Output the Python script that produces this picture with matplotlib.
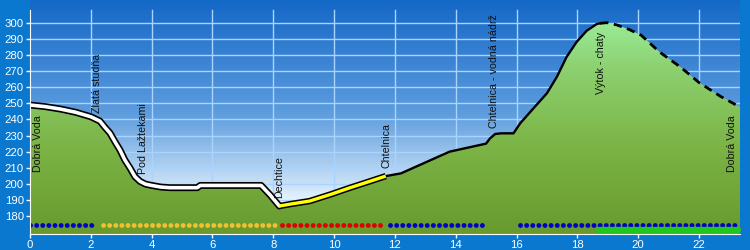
import numpy as np
import matplotlib
matplotlib.use("Agg")
import matplotlib.pyplot as plt
from matplotlib.colors import LinearSegmentedColormap
from matplotlib.patches import Polygon

# ---- data ----
dist = [0, 0.5, 1.0, 1.5, 2.0, 2.3, 2.47, 2.63, 2.8, 2.96, 3.12, 3.29, 3.45, 3.62, 3.8, 4.0,
        4.3, 4.6, 5.5, 5.6, 7.6, 7.9, 8.2, 8.6, 9.2, 9.9, 10.5, 11.2, 11.7, 12.2, 13.8,
        15.0, 15.13, 15.3, 15.5, 15.9, 16.12, 16.56, 17.0, 17.33, 17.65, 17.98, 18.31,
        18.64, 18.75, 18.97, 19.3, 19.7, 20.1, 20.7, 21.4, 22.0, 22.7, 23.35]
elev = [249, 248, 246.5, 244.5, 241.7, 239, 235, 231.6, 226, 221, 214.8, 209.8, 204.5, 201.5,
        199.8, 199, 198, 197.6, 197.6, 199, 199, 193, 186.2, 187.5, 189.3, 193.5, 197.4,
        201.7, 204.8, 206.5, 220, 225, 228.3, 231, 231.4, 231.4, 237.6, 247, 256.3, 266.6,
        279, 288.3, 295.2, 299.4, 299.8, 300.2, 298.8, 296, 292.4, 282, 272.5, 263, 254.5, 247.7]

# line style sections: (start km, end km, style)
sections = [(0, 8.2, "white"), (8.2, 11.7, "yellow"), (11.7, 18.75, "solid"), (18.75, 23.35, "dashed")]

# dotted surface-type bands: (start km, end km, colour)
dot_bands = [(0.0, 2.2, "#0000C8"), (2.4, 8.2, "#F0C030"), (8.3, 11.7, "#E00000"),
             (11.85, 15.0, "#0000C8"), (16.1, 23.25, "#0000C8")]
green_band = (18.7, 23.3)

place_names = ["Dobrá Voda", "Zlatá studňa", "Pod Lažtekami", "Dechtice", "Chtelnica",
               "Chtelnica - vodná nádrž", "Výtok - chaty", "Dobrá Voda"]
place_km = [0.25, 2.19, 3.7, 8.2, 11.73, 15.25, 18.77, 23.1]
place_base = [207.4, 244, 206, 191, 209.8, 234.7, 255.8, 207.4]

xticks = list(range(0, 24, 2))
yticks = list(range(180, 310, 10))

# ---- figure ----
YLO, YHI = 168.8, 314.3
XLO, XHI = 0, 23.35
fig = plt.figure(figsize=(7.5, 2.5), dpi=100, facecolor="#0A78CF")
ax = fig.add_axes([30/750, 16/250, 710/750, 234/250])
ax.set_xlim(XLO, XHI)
ax.set_ylim(YLO, YHI)

# sky gradient
sky = LinearSegmentedColormap.from_list("sky", [(0, "#F4FAFF"), (0.12, "#C8E0F6"), (0.45, "#5E9DDE"), (1, "#1468C6")])
grad = np.linspace(0, 1, 256).reshape(-1, 1)
ax.imshow(grad, extent=[XLO, XHI, 185, YHI], origin="lower", aspect="auto", cmap=sky, zorder=0)
ax.axhspan(YLO, 185, color="#F4FAFF", zorder=0)

# grid
for yv in yticks:
    ax.plot([XLO, XHI], [yv, yv], color="#A8D4FF", lw=1, zorder=1)
for xv in xticks[1:]:
    ax.plot([xv, xv], [YLO, 308], color="#A8D4FF", lw=1, zorder=1)

# terrain gradient fill
ground = LinearSegmentedColormap.from_list("ground", [(0, "#689A2E"), (0.4, "#7CB446"), (0.75, "#8CD070"), (1, "#9CF09C")])
img = ax.imshow(grad, extent=[XLO, XHI, YLO, 305], origin="lower", aspect="auto", cmap=ground, zorder=2)
poly_pts = [(XLO, YLO)] + list(zip(dist, elev)) + [(XHI, YLO)]
poly = Polygon(poly_pts, closed=True, transform=ax.transData, facecolor="none", edgecolor="none")
ax.add_patch(poly)
img.set_clip_path(poly)

# profile line sections
d = np.array(dist); e = np.array(elev)
for a, b, style in sections:
    m = (d >= a - 1e-9) & (d <= b + 1e-9)
    xs, ys = d[m], e[m]
    if style == "white":
        ax.plot(xs, ys, color="black", lw=5.0, solid_joinstyle="round", solid_capstyle="round", zorder=4)
        ax.plot(xs, ys, color="white", lw=2.6, solid_joinstyle="round", solid_capstyle="round", zorder=5)
    elif style == "yellow":
        ax.plot(xs, ys, color="black", lw=4.6, solid_joinstyle="round", solid_capstyle="butt", zorder=4)
        ax.plot(xs, ys, color="#FFFF00", lw=2.4, solid_joinstyle="round", solid_capstyle="butt", zorder=5)
    elif style == "solid":
        ax.plot(xs, ys, color="black", lw=1.7, solid_joinstyle="round", zorder=4)
    else:
        ax.plot(xs, ys, color="black", lw=2.0, linestyle=(0, (3, 2)), zorder=4)

# dotted bands
for a, b, c in dot_bands:
    ax.plot([a, b], [174.4, 174.4], color=c, lw=3.5, linestyle=(0, (0.01, 1.25)),
            dash_capstyle="round", zorder=6)
ax.plot([green_band[0], green_band[1]], [171.0, 171.0], color="#1EC81E", lw=4.5,
        solid_capstyle="round", zorder=7, clip_on=False)

# place labels
for name, xk, base in zip(place_names, place_km, place_base):
    ax.text(xk, base, name, rotation=90, ha="center", va="bottom", fontsize=7.7,
            family="Liberation Sans", color="#101010", zorder=7)

# axes styling
for s in ["top", "right"]:
    ax.spines[s].set_visible(False)
ax.spines["left"].set_color("white")
ax.spines["bottom"].set_color("white")
ax.spines["left"].set_bounds(YLO, 308)
ax.spines["left"].set_zorder(8)
ax.spines["bottom"].set_zorder(8)
ax.set_xticks(xticks)
ax.set_yticks(yticks)
ax.set_xticklabels([str(v) for v in xticks])
ax.set_yticklabels([str(v) for v in yticks])
ax.tick_params(axis="both", colors="white", length=3, width=1, labelsize=8.2, pad=1.5)
for lab in ax.get_xticklabels() + ax.get_yticklabels():
    lab.set_family("Liberation Sans")
    lab.set_color("white")

fig.savefig("out.png", dpi=100, facecolor=fig.get_facecolor())
